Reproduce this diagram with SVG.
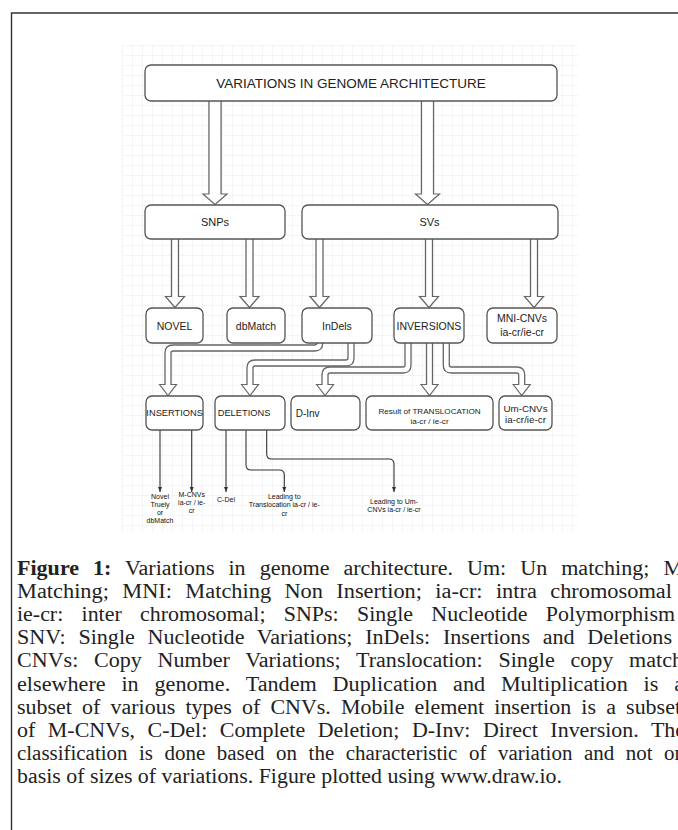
<svg xmlns="http://www.w3.org/2000/svg" width="678" height="830" viewBox="0 0 678 830">
<style>
.box{fill:#fff;stroke:#555;stroke-width:1.3}
.lbl{font-family:"Liberation Sans",Arial,sans-serif;fill:#222;text-anchor:middle}
.st{text-anchor:start}
.fo{fill:none;stroke:#666;stroke-linejoin:round}
.fi{fill:none;stroke:#fff;stroke-linejoin:round}
.head{fill:#fff;stroke:#666;stroke-width:1.2;stroke-linejoin:miter}
.thin{fill:none;stroke:#333;stroke-width:1.1;marker-end:url(#tri)}
.sm{font-family:"Liberation Sans",Arial,sans-serif;font-size:7px;fill:#111;text-anchor:middle}
.cap{font-family:"Liberation Serif","Times New Roman",serif;font-size:20.5px;fill:#222}
</style>
<defs>
<pattern id="grid" width="10" height="10" patternUnits="userSpaceOnUse" x="122" y="45">
<path d="M10 0H0V10" fill="none" stroke="#ebebeb" stroke-width="1"/>
</pattern>
<marker id="tri" viewBox="0 0 10 10" refX="10" refY="5" markerWidth="5" markerHeight="5" markerUnits="userSpaceOnUse" orient="auto">
<path d="M0,1 L10,5 L0,9 z" fill="#333"/>
</marker>
</defs>
<rect width="678" height="830" fill="#fff"/>
<path d="M11.5,830 V13 H678" fill="none" stroke="#333" stroke-width="1.4"/>
<rect x="122" y="45" width="456" height="487" fill="url(#grid)"/>

<g id="connectors">
<path class="fo" stroke-width="13.4" d="M215,100 V194"/>
<polygon class="head" points="203,194 215,204.5 227,194"/>
<path class="fi" stroke-width="10.8" d="M215,100 V195.5"/>
<path class="fo" stroke-width="13.4" d="M427.5,100 V194"/>
<polygon class="head" points="415.5,194 427.5,204.5 439.5,194"/>
<path class="fi" stroke-width="10.8" d="M427.5,100 V195.5"/>
<g>
<path class="fo" stroke-width="8.3" d="M175,238 V296.5"/>
<polygon class="head" points="165.5,296.5 175,307.5 184.5,296.5"/>
<path class="fi" stroke-width="5.7" d="M175,238 V298"/>
<path class="fo" stroke-width="8.3" d="M249.5,238 V296.5"/>
<polygon class="head" points="240,296.5 249.5,307.5 259,296.5"/>
<path class="fi" stroke-width="5.7" d="M249.5,238 V298"/>
<path class="fo" stroke-width="8.3" d="M319.5,238 V296.5"/>
<polygon class="head" points="310,296.5 319.5,307.5 329,296.5"/>
<path class="fi" stroke-width="5.7" d="M319.5,238 V298"/>
<path class="fo" stroke-width="8.3" d="M429,238 V296.5"/>
<polygon class="head" points="419.5,296.5 429,307.5 438.5,296.5"/>
<path class="fi" stroke-width="5.7" d="M429,238 V298"/>
<path class="fo" stroke-width="8.3" d="M534,238 V296.5"/>
<polygon class="head" points="524.5,296.5 534,307.5 543.5,296.5"/>
<path class="fi" stroke-width="5.7" d="M534,238 V298"/>
</g>
<g>
<path class="fo" stroke-width="7.3" d="M319.7,340 V343 Q319.7,348 314.7,348 H173 Q168,348 168,353 V384.5"/>
<polygon class="head" points="159.5,384.5 168,395.5 176.5,384.5"/>
<path class="fi" stroke-width="4.7" d="M319.7,340 V343 Q319.7,348 314.7,348 H173 Q168,348 168,353 V386"/>
<path class="fo" stroke-width="7.3" d="M351,340 V358 Q351,363 346,363 H255 Q250,363 250,368 V384.5"/>
<polygon class="head" points="241.5,384.5 250,395.5 258.5,384.5"/>
<path class="fi" stroke-width="4.7" d="M351,340 V358 Q351,363 346,363 H255 Q250,363 250,368 V386"/>
<path class="fo" stroke-width="7.3" d="M408,340 V365 Q408,370 403,370 H330 Q325,370 325,375 V384.5"/>
<polygon class="head" points="316.5,384.5 325,395.5 333.5,384.5"/>
<path class="fi" stroke-width="4.7" d="M408,340 V365 Q408,370 403,370 H330 Q325,370 325,375 V386"/>
<path class="fo" stroke-width="7.3" d="M429.5,340 V384.5"/>
<polygon class="head" points="421,384.5 429.5,395.5 438,384.5"/>
<path class="fi" stroke-width="4.7" d="M429.5,340 V386"/>
<path class="fo" stroke-width="7.3" d="M446.3,340 V365 Q446.3,370 451.3,370 H516.7 Q521.7,370 521.7,375 V384.5"/>
<polygon class="head" points="513.2,384.5 521.7,395.5 530.2,384.5"/>
<path class="fi" stroke-width="4.7" d="M446.3,340 V365 Q446.3,370 451.3,370 H516.7 Q521.7,370 521.7,375 V386"/>
</g>
<g>
<path class="thin" d="M160,430 V492"/>
<path class="thin" d="M191.7,430 V492"/>
<path class="thin" d="M226,430 V492"/>
<path class="thin" d="M246,430 V465 Q246,470 251,470 H279.3 Q284.3,470 284.3,475 V492"/>
<path class="thin" d="M266.7,430 V454 Q266.7,459 271.7,459 H389 Q394,459 394,464 V492"/>
</g>
</g>

<g id="n-root"><rect class="box" x="145" y="65" width="412" height="36" rx="6"/><text class="lbl" x="351" y="88" font-size="13.5">VARIATIONS IN GENOME ARCHITECTURE</text></g>
<g id="n-snps"><rect class="box" x="145" y="205" width="140" height="34" rx="6"/><text class="lbl" x="215" y="226" font-size="11">SNPs</text></g>
<g id="n-svs"><rect class="box" x="302" y="205" width="256" height="34" rx="6"/><text class="lbl" x="429.5" y="226" font-size="11">SVs</text></g>
<g id="n-novel"><rect class="box" x="146" y="308" width="57" height="35" rx="6"/><text class="lbl" x="174.5" y="329.5" font-size="10.5">NOVEL</text></g>
<g id="n-dbmatch"><rect class="box" x="227" y="308" width="58" height="35" rx="6"/><text class="lbl" x="256" y="329.5" font-size="10.5">dbMatch</text></g>
<g id="n-indels"><rect class="box" x="302" y="308" width="70" height="35" rx="6"/><text class="lbl" x="337" y="329.5" font-size="10.5">InDels</text></g>
<g id="n-inversions"><rect class="box" x="394" y="308" width="70" height="35" rx="6"/><text class="lbl" x="429" y="329.5" font-size="10.5">INVERSIONS</text></g>
<g id="n-mnicnvs"><rect class="box" x="487" y="308" width="70" height="35" rx="6"/><text class="lbl" x="522" y="322" font-size="10.5">MNI-CNVs</text><text class="lbl" x="522" y="335.5" font-size="10.5">ia-cr/ie-cr</text></g>
<g id="n-insertions"><rect class="box" x="146" y="396" width="57" height="34" rx="6"/><text class="lbl" x="174.7" y="416.3" font-size="9.3">INSERTIONS</text></g>
<g id="n-deletions"><rect class="box" x="215" y="396" width="70" height="34" rx="6"/><text class="lbl st" x="217.7" y="416.3" font-size="9.3">DELETIONS</text></g>
<g id="n-dinv"><rect class="box" x="291" y="396" width="69" height="34" rx="6"/><text class="lbl st" x="295.7" y="416.8" font-size="10">D-Inv</text></g>
<g id="n-translocation"><rect class="box" x="366" y="396" width="127" height="34" rx="6"/><text class="lbl" x="429.5" y="414" font-size="8.1">Result of TRANSLOCATION</text><text class="lbl" x="429.5" y="423.7" font-size="8.1">ia-cr / ie-cr</text></g>
<g id="n-umcnvs"><rect class="box" x="499" y="396" width="53" height="34" rx="6"/><text class="lbl" x="525.5" y="412.4" font-size="9.8">Um-CNVs</text><text class="lbl" x="525.5" y="422.6" font-size="9.8">ia-cr/ie-cr</text></g>

<g id="leaf-labels">
<text class="sm" x="160" y="498.5">Novel</text>
<text class="sm" x="160" y="506.8">Truely</text>
<text class="sm" x="160" y="515.1">or</text>
<text class="sm" x="160" y="523.4">dbMatch</text>
<text class="sm" x="191.7" y="496.5">M-CNVs</text>
<text class="sm" x="191.7" y="504.8">ia-cr / ie-</text>
<text class="sm" x="191.7" y="513.1">cr</text>
<text class="sm" x="226" y="501.5">C-Del</text>
<text class="sm" x="284.3" y="499">Leading to</text>
<text class="sm" x="284.3" y="507.3">Translocation ia-cr / ie-</text>
<text class="sm" x="284.3" y="515.6">cr</text>
<text class="sm" x="394" y="504">Leading to Um-</text>
<text class="sm" x="394" y="512.3">CNVs ia-cr / ie-cr</text>
</g>

<g id="caption">
<text class="cap" x="17" y="575" word-spacing="7.9" textLength="666" lengthAdjust="spacingAndGlyphs"><tspan font-weight="bold">Figure 1:</tspan> Variations in genome architecture. Um: Un matching; M</text>
<text class="cap" x="17" y="598.1" word-spacing="7.1" textLength="655" lengthAdjust="spacingAndGlyphs">Matching; MNI: Matching Non Insertion; ia-cr: intra chromosomal</text>
<text class="cap" x="17" y="621.2" word-spacing="12" textLength="658" lengthAdjust="spacingAndGlyphs">ie-cr: inter chromosomal; SNPs: Single Nucleotide Polymorphism</text>
<text class="cap" x="17" y="644.3" word-spacing="6.7" textLength="655" lengthAdjust="spacingAndGlyphs">SNV: Single Nucleotide Variations; InDels: Insertions and Deletions</text>
<text class="cap" x="17" y="667.4" word-spacing="9.5" textLength="666" lengthAdjust="spacingAndGlyphs">CNVs: Copy Number Variations; Translocation: Single copy match</text>
<text class="cap" x="17" y="690.5" word-spacing="9.5" textLength="667" lengthAdjust="spacingAndGlyphs">elsewhere in genome. Tandem Duplication and Multiplication is a</text>
<text class="cap" x="17" y="713.6" word-spacing="4.4" textLength="664" lengthAdjust="spacingAndGlyphs">subset of various types of CNVs. Mobile element insertion is a subset</text>
<text class="cap" x="17" y="736.7" word-spacing="6.6" textLength="668" lengthAdjust="spacingAndGlyphs">of M-CNVs, C-Del: Complete Deletion; D-Inv: Direct Inversion. The</text>
<text class="cap" x="17" y="759.8" word-spacing="6.2" textLength="668" lengthAdjust="spacingAndGlyphs">classification is done based on the characteristic of variation and not on</text>
<text class="cap" x="17" y="782.9" textLength="545" lengthAdjust="spacingAndGlyphs">basis of sizes of variations. Figure plotted using www.draw.io.</text>
</g>
</svg>
